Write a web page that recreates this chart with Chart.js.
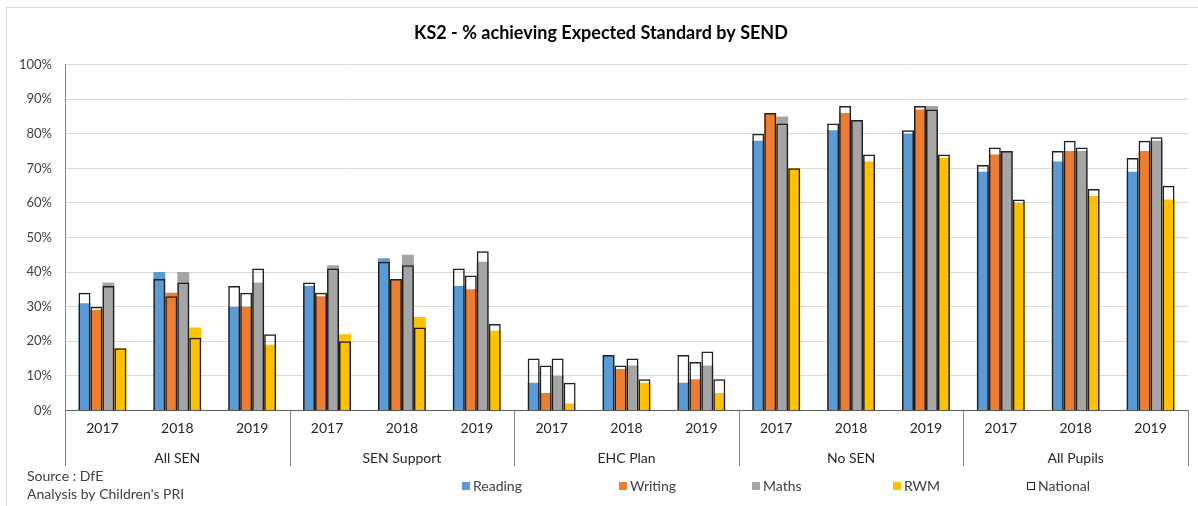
<!DOCTYPE html>
<html>
<head>
<meta charset="utf-8">
<script src="https://cdn.jsdelivr.net/npm/chart.js@4.4.1/dist/chart.umd.min.js"></script>
<style>
  html, body { margin: 0; padding: 0; background: #fff; }
  #wrap { position: relative; width: 1198px; height: 506px; overflow: hidden; }
  #frame { position: absolute; left: 6px; top: 7px; width: 1220px; height: 540px; border: 1px solid #d9d9d9; box-sizing: border-box; }
  #c { position: absolute; left: 0; top: 0; }
</style>
</head>
<body>
<div id="wrap">
  <div id="frame"></div>
  <canvas id="c" width="1198" height="506"></canvas>
</div>
<script>
// KS2 attainment, % of pupils reaching the expected standard
const groups = ['All SEN', 'SEN Support', 'EHC Plan', 'No SEN', 'All Pupils'];
const years = ['2017', '2018', '2019'];
const yearLabels = groups.flatMap(() => years);

const reading = [31, 40, 30, 36, 44, 36, 8, 16, 8, 78, 81, 80, 69, 72, 69];
const writing = [29, 34, 30, 33, 38, 35, 5, 12, 9, 86, 86, 87, 74, 75, 75];
const maths   = [37, 40, 37, 42, 45, 43, 10, 13, 13, 85, 84, 88, 75, 75, 78];
const rwm     = [18, 24, 19, 22, 27, 23, 2, 8, 5, 70, 72, 73, 60, 62, 61];

// National comparison figures for each subject
const nationalReading = [34, 38, 36, 37, 43, 41, 15, 16, 16, 80, 83, 81, 71, 75, 73];
const nationalWriting = [30, 33, 34, 34, 38, 39, 13, 13, 14, 86, 88, 88, 76, 78, 78];
const nationalMaths   = [36, 37, 41, 41, 42, 46, 15, 15, 17, 83, 84, 87, 75, 76, 79];
const nationalRwm     = [18, 21, 22, 20, 24, 25, 8, 9, 9, 70, 74, 74, 61, 64, 65];

const yTicks = [0, 10, 20, 30, 40, 50, 60, 70, 80, 90, 100];

const FONT = 'Lato, "Open Sans", sans-serif';
const TEXT = '#404040';

const series = [
  { label: 'Reading', data: reading, national: nationalReading, color: '#5B9BD5' },
  { label: 'Writing', data: writing, national: nationalWriting, color: '#ED7D31' },
  { label: 'Maths',   data: maths,   national: nationalMaths,   color: '#A5A5A5' },
  { label: 'RWM',     data: rwm,     national: nationalRwm,     color: '#FFC000' }
];

// National outlines come first so they are painted over the coloured bars
const datasets = [
  ...series.map(s => ({
    label: 'National',
    data: s.national,
    stack: s.label,
    backgroundColor: 'rgba(255,255,255,0)',
    borderColor: '#1f1f1f',
    borderWidth: 1.5,
    borderSkipped: 'start'
  })),
  ...series.map(s => ({
    label: s.label,
    data: s.data,
    stack: s.label,
    backgroundColor: s.color,
    borderWidth: 0
  }))
];

const legendItems = [
  ...series.map(s => ({ text: s.label, fill: s.color, stroke: null })),
  { text: 'National', fill: '#ffffff', stroke: '#1f1f1f' }
];
const legendX = [462, 619, 752, 893, 1027];
const sourceLines = ['Source : DfE', "Analysis by Children's PRI"];

const decorations = {
  id: 'decorations',
  afterDraw(chart) {
    const ctx = chart.ctx;
    const xs = chart.scales.x;
    const xg = chart.scales.xg;
    const area = chart.chartArea;
    ctx.save();

    // group separators running through both label rows
    ctx.strokeStyle = '#808080';
    ctx.lineWidth = 1;
    for (let i = 0; i <= groups.length; i++) {
      const x = Math.round(xs.getPixelForValue(i * years.length - 0.5)) + 0.5;
      ctx.beginPath();
      ctx.moveTo(x, area.bottom);
      ctx.lineTo(x, xg.bottom - 4);
      ctx.stroke();
    }

    // legend row
    ctx.font = '14px ' + FONT;
    ctx.textBaseline = 'middle';
    ctx.textAlign = 'left';
    const ly = 486;
    legendItems.forEach((item, i) => {
      const x = legendX[i];
      ctx.fillStyle = item.fill;
      ctx.fillRect(x, ly - 4, 8, 8);
      if (item.stroke) {
        ctx.strokeStyle = item.stroke;
        ctx.lineWidth = 1;
        ctx.strokeRect(x + 0.5, ly - 3.5, 7, 7);
      }
      ctx.fillStyle = TEXT;
      ctx.fillText(item.text, x + 11, ly);
    });

    // source note
    ctx.fillStyle = TEXT;
    ctx.fillText(sourceLines[0], 27, 476);
    ctx.fillText(sourceLines[1], 27, 494);
    ctx.restore();
  }
};

new Chart(document.getElementById('c'), {
  type: 'bar',
  data: { labels: yearLabels, datasets },
  plugins: [decorations],
  options: {
    responsive: false,
    animation: false,
    devicePixelRatio: 1,
    layout: { padding: { left: 14, right: 10, top: 0, bottom: 36 } },
    datasets: { bar: { barPercentage: 1, categoryPercentage: 0.64 } },
    plugins: {
      legend: { display: false },
      tooltip: { enabled: false },
      title: {
        display: true,
        text: 'KS2 - % achieving Expected Standard by SEND',
        color: '#000',
        font: { family: FONT, size: 18, weight: 'bold' },
        padding: { top: 22, bottom: 21 }
      }
    },
    scales: {
      x: {
        type: 'category',
        offset: true,
        grid: { display: false, drawTicks: false },
        border: { display: true, color: '#595959', width: 1 },
        ticks: { font: { family: FONT, size: 14 }, color: '#262626', padding: 10, maxRotation: 0, autoSkip: false }
      },
      xg: {
        type: 'category',
        position: 'bottom',
        labels: groups,
        offset: true,
        weight: 1,
        grid: { display: false, drawTicks: false },
        border: { display: false },
        ticks: { font: { family: FONT, size: 14 }, color: '#262626', padding: 3, maxRotation: 0, autoSkip: false }
      },
      y: {
        min: 0,
        max: 100,
        stacked: false,
        afterBuildTicks: scale => { scale.ticks = yTicks.map(v => ({ value: v })); },
        afterFit: scale => { scale.width = 51; },
        grid: { color: '#d9d9d9', drawTicks: false },
        border: { display: true, color: '#868686' },
        ticks: {
          font: { family: FONT, size: 13 },
          color: TEXT,
          padding: 13,
          callback: v => v + '%'
        }
      }
    }
  }
});
</script>
</body>
</html>
